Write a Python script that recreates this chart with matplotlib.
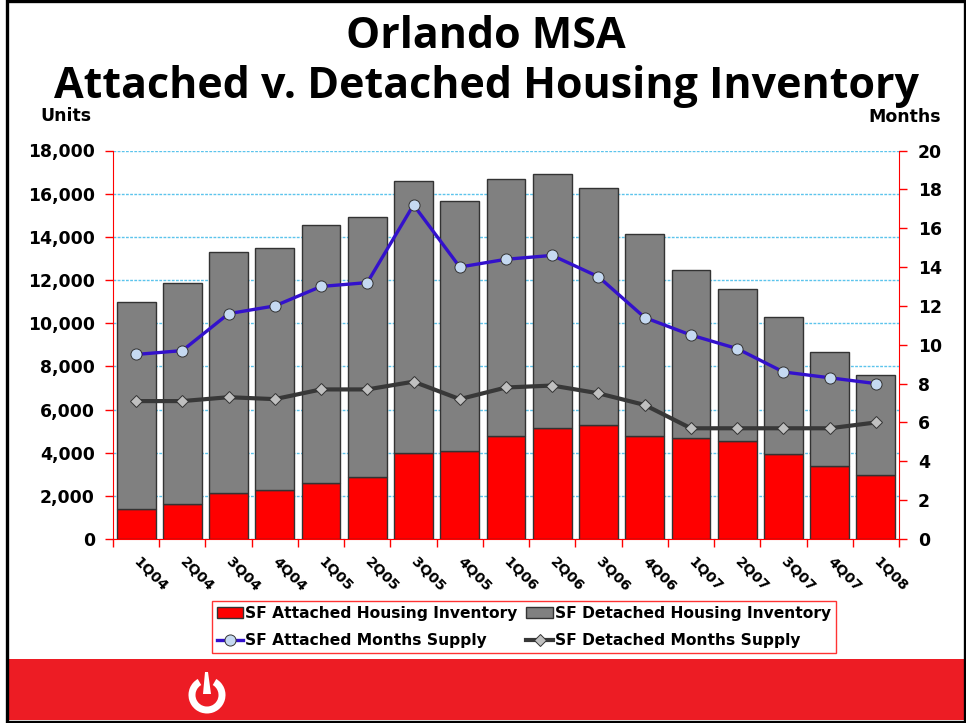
import matplotlib
matplotlib.use("Agg")
import matplotlib.pyplot as plt
from matplotlib.patches import Rectangle, Wedge, Polygon

W, H = 966, 723

quarters = ["1Q04", "2Q04", "3Q04", "4Q04", "1Q05", "2Q05", "3Q05", "4Q05", "1Q06",
            "2Q06", "3Q06", "4Q06", "1Q07", "2Q07", "3Q07", "4Q07", "1Q08"]
attached_units = [1400, 1600, 2150, 2280, 2600, 2850, 4000, 4100, 4750,
                  5130, 5280, 4750, 4680, 4550, 3950, 3400, 2980]
detached_units = [9570, 10250, 11140, 11190, 11940, 12050, 12580, 11550, 11920,
                  11770, 10970, 9370, 7770, 7020, 6330, 5260, 4610]
attached_months = [9.5, 9.7, 11.6, 12.0, 13.0, 13.2, 17.2, 14.0, 14.4,
                   14.6, 13.5, 11.4, 10.5, 9.8, 8.6, 8.3, 8.0]
detached_months = [7.1, 7.1, 7.3, 7.2, 7.7, 7.7, 8.1, 7.2, 7.8,
                   7.9, 7.5, 6.9, 5.7, 5.7, 5.7, 5.7, 6.0]
unit_ticks = list(range(0, 18001, 2000))
month_ticks = list(range(0, 21, 2))

plt.rcParams['font.family'] = ['DejaVu Sans']

fig = plt.figure(figsize=(W / 100, H / 100), dpi=100, facecolor='white')

# page furniture, drawn in pixel coordinates
bg = fig.add_axes([0, 0, 1, 1])
bg.set_xlim(0, W)
bg.set_ylim(H, 0)
bg.axis('off')
bg.add_patch(Rectangle((8, 659), 956, 61, fc='#ed1c24', ec='none'))
bg.add_patch(Rectangle((7, 1), 958, 720.5, fc='none', ec='black', lw=2.4))
bg.add_patch(Wedge((207, 695), 18.5, -60, 240, width=7, fc='white', ec='none'))
bg.add_patch(Polygon([[205, 672], [208, 672], [211, 694], [203, 694]], fc='white', ec='none'))

ax = fig.add_axes([113 / W, 1 - 539 / H, (899 - 113) / W, (539 - 150.5) / H])
ax.patch.set_alpha(0)
x = list(range(len(quarters)))
ax.bar(x, attached_units, width=0.84, color='#ff0000', edgecolor='#333333', linewidth=1,
       label='SF Attached Housing Inventory', zorder=3)
ax.bar(x, detached_units, width=0.84, bottom=attached_units, color='#808080',
       edgecolor='#333333', linewidth=1, label='SF Detached Housing Inventory', zorder=3)
ax.set_xlim(-0.5, len(quarters) - 0.5)
ax.set_ylim(0, 18000)
ax.set_yticks(unit_ticks)
ax.set_yticklabels([f"{v:,}" for v in unit_ticks], fontsize=12.4, fontweight='bold')
ax.set_xticks([i - 0.5 for i in x] + [len(quarters) - 0.5])
ax.set_xticklabels([])
ax.set_xticks(x, minor=True)
ax.set_xticklabels(quarters, minor=True, rotation=-45, ha='left', va='center',
                   rotation_mode='anchor', fontsize=10.2, fontweight='bold')
ax.tick_params(axis='x', which='minor', length=0, pad=15)
ax.tick_params(axis='x', which='major', length=6, color='#ff0000', width=1, direction='out')
ax.tick_params(axis='y', length=6, color='#ff0000', width=1, direction='out', pad=7)
ax.grid(axis='y', color='#5cc4ec', linestyle=(0, (2, 1)), linewidth=1, zorder=0)
ax.set_axisbelow(True)
for s in ['top', 'right']:
    ax.spines[s].set_visible(False)
for s in ['left', 'bottom']:
    ax.spines[s].set_color('#ff0000')

ax2 = ax.twinx()
ax2.patch.set_alpha(0)
ax2.plot(x, attached_months, color='#3311cc', lw=2.4, marker='o', ms=8, mfc='#c5d9f1',
         mec='#333333', mew=0.7, label='SF Attached Months Supply', zorder=5)
ax2.plot(x, detached_months, color='#383838', lw=3, marker='D', ms=6, mfc='#c0c0c0',
         mec='#333333', mew=0.7, label='SF Detached Months Supply', zorder=4)
ax2.set_ylim(0, 20)
ax2.set_yticks(month_ticks)
ax2.set_yticklabels([str(v) for v in month_ticks], fontsize=12.4, fontweight='bold')
ax2.tick_params(axis='y', length=6, color='#ff0000', width=1, direction='out', pad=7.5)
for s in ['top', 'left', 'bottom']:
    ax2.spines[s].set_visible(False)
ax2.spines['right'].set_color('#ff0000')

bars, bar_labels = ax.get_legend_handles_labels()
lines, line_labels = ax2.get_legend_handles_labels()
handles = [bars[0], lines[0], bars[1], lines[1]]
labels = [bar_labels[0], line_labels[0], bar_labels[1], line_labels[1]]
leg = fig.legend(handles, labels, ncol=2, loc='lower left',
                 bbox_to_anchor=(212 / W, 1 - 653 / H),
                 prop={'weight': 'bold', 'size': 11.2}, frameon=True, fancybox=False,
                 edgecolor='#ff3333', framealpha=1, handlelength=1.72, handletextpad=0.12,
                 columnspacing=0.55, borderpad=0.3, labelspacing=0.8, borderaxespad=0)
leg.get_frame().set_linewidth(1)

bg.text(486, 37, "Orlando MSA", ha='center', va='center', fontsize=31, fontweight='bold',
        family='Open Sans')
bg.text(486, 87, "Attached v. Detached Housing Inventory", ha='center', va='center',
        fontsize=31, fontweight='bold', family='Open Sans')
bg.text(66, 116, "Units", ha='center', va='center', fontsize=12.5, fontweight='bold')
bg.text(905, 117, "Months", ha='center', va='center', fontsize=12.5, fontweight='bold')

fig.savefig('out.png', dpi=100)
